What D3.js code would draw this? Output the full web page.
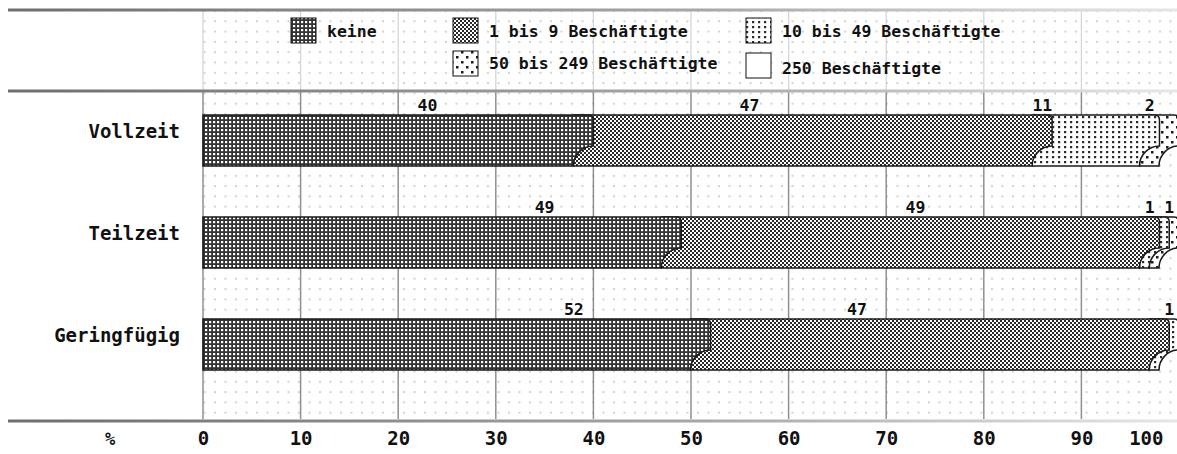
<!DOCTYPE html>
<meta charset="utf-8">
<style>

body {
  margin: 0;
  background: #fff;
}

text {
  font-family: "DejaVu Sans Mono", monospace;
  font-weight: bold;
  fill: #111;
}

.axis path,
.axis line {
  display: none;
}

</style>
<body>
<script src="https://cdnjs.cloudflare.com/ajax/libs/d3/7.8.5/d3.min.js"></script>
<script>

// data (percent of employees)
var categories = ["Vollzeit", "Teilzeit", "Geringfügig"];
var sizeNames = ["keine", "1 bis 9 Beschäftigte", "10 bis 49 Beschäftigte", "50 bis 249 Beschäftigte", "250 Beschäftigte"];
var keine   = [40, 49, 52];
var bis9    = [47, 49, 47];
var bis49   = [11, 1, 1];
var bis249  = [2, 1, 0];
var ab250   = [0, 0, 0];
var tickValues = [0, 10, 20, 30, 40, 50, 60, 70, 80, 90, 100];

// where the value labels sit in the original (in percent units)
var labelAt = [[23, 56, 86, 97], [35, 73, 97, 99], [38, 67, 99]];

var keys = ["keine", "bis9", "bis49", "bis249", "ab250"];
var table = categories.map(function(c, i) {
  return {cat: c, keine: keine[i], bis9: bis9[i], bis49: bis49[i], bis249: bis249[i], ab250: ab250[i]};
});

var width = 1177, height = 454;

var x = d3.scaleLinear()
    .domain([0, 100])
    .range([203, 1179]);

var y = d3.scaleBand()
    .domain(categories)
    .range([89.5, 395.5])
    .paddingInner(0.5)
    .paddingOuter(0.25);

var svg = d3.select("body").append("svg")
    .attr("width", width)
    .attr("height", height);

var defs = svg.append("defs");

// background dots
var bg = defs.append("pattern")
    .attr("id", "bgdots")
    .attr("patternUnits", "userSpaceOnUse")
    .attr("x", 214).attr("y", 10)
    .attr("width", 10.5).attr("height", 10.3);
bg.append("rect").attr("width", 2).attr("height", 2).attr("fill", "#d2d2d2");

function pattern(id, w, h, back, dots, dotColor, s) {
  var p = defs.append("pattern")
      .attr("id", id)
      .attr("patternUnits", "userSpaceOnUse")
      .attr("width", w).attr("height", h);
  p.append("rect").attr("width", w).attr("height", h).attr("fill", back);
  dots.forEach(function(d) {
    p.append("rect").attr("x", d[0]).attr("y", d[1])
        .attr("width", s).attr("height", s).attr("fill", dotColor);
  });
}

pattern("p0", 4, 4, "#333", [[1, 1]], "#fff", 2.2);
pattern("p1", 4, 4, "#fff", [[0, 0], [2, 2]], "#2a2a2a", 2);
pattern("p2", 6, 5, "#fff", [[2, 1]], "#2a2a2a", 2.2);
pattern("p3", 10, 10, "#fff", [[1, 1], [6, 6]], "#1a1a1a", 2.5);
pattern("p4", 4, 4, "#fff", [], "#000", 0);

var fills = ["url(#p0)", "url(#p1)", "url(#p2)", "url(#p3)", "url(#p4)"];

var grad = defs.append("linearGradient")
    .attr("id", "rule")
    .attr("x1", "0%").attr("x2", "100%");
grad.append("stop").attr("offset", "0%").attr("stop-color", "#6e6e6e");
grad.append("stop").attr("offset", "60%").attr("stop-color", "#a8a8a8");
grad.append("stop").attr("offset", "100%").attr("stop-color", "#e6e6e6");

// dotted plot area
svg.append("rect")
    .attr("x", x(0)).attr("y", 10)
    .attr("width", width - x(0)).attr("height", 410)
    .attr("fill", "url(#bgdots)");

// grid lines
var grid = tickValues.slice(0, -1);
svg.selectAll(".gridTop")
    .data(grid)
  .enter().append("line")
    .attr("x1", function(d) { return x(d); })
    .attr("x2", function(d) { return x(d); })
    .attr("y1", 10).attr("y2", 90)
    .attr("stroke", "#d6d6d6")
    .attr("stroke-width", 1.3);

svg.selectAll(".grid")
    .data(grid)
  .enter().append("line")
    .attr("x1", function(d) { return x(d); })
    .attr("x2", function(d) { return x(d); })
    .attr("y1", 91).attr("y2", 419)
    .attr("stroke", "#8f8f8f")
    .attr("stroke-width", 1.5);

// horizontal rules
[10, 91, 421].forEach(function(yy) {
  svg.append("rect")
      .attr("x", 8).attr("y", yy - 1.5)
      .attr("width", width - 8).attr("height", 3)
      .attr("fill", "url(#rule)");
});

// legend
var legendItems = [
  {i: 0, x: 291, y: 18, ty: 37},
  {i: 1, x: 453, y: 18, ty: 37},
  {i: 2, x: 746, y: 18, ty: 37},
  {i: 3, x: 453, y: 51, ty: 69},
  {i: 4, x: 746, y: 53, ty: 74}
];

var legend = svg.selectAll(".legend")
    .data(legendItems)
  .enter().append("g")
    .attr("class", "legend");

legend.append("rect")
    .attr("x", function(d) { return d.x; })
    .attr("y", function(d) { return d.y; })
    .attr("width", 25)
    .attr("height", 25)
    .attr("fill", function(d) { return fills[d.i]; })
    .attr("stroke", "#111")
    .attr("stroke-width", 1);

legend.append("text")
    .attr("x", function(d) { return d.x + 36; })
    .attr("y", function(d) { return d.ty; })
    .style("font-size", "16.5px")
    .text(function(d) { return sizeNames[d.i]; });

// stacked bars
var series = d3.stack().keys(keys)(table);
var bite = 20, corner = 5;

function segPath(a, b, y0, y1, first) {
  var left = first ? a : a - bite;
  return "M" + left + "," + y0 +
    "L" + (b - corner) + "," + y0 +
    "Q" + b + "," + y0 + "," + b + "," + (y0 + corner) +
    "L" + b + "," + (y1 - bite) +
    "A" + bite + "," + bite + " 0 0 0 " + (b - bite) + "," + y1 +
    "L" + left + "," + y1 + "Z";
}

table.forEach(function(row, r) {
  var segs = [];
  series.forEach(function(s, j) {
    var v = s[r];
    if (v[1] - v[0] > 0) segs.push({j: j, x0: v[0], x1: v[1]});
  });
  var y0 = y(row.cat), y1 = y0 + y.bandwidth();
  var g = svg.append("g").attr("class", "bar");
  g.selectAll("path")
      .data(segs.slice().reverse())
    .enter().append("path")
      .attr("d", function(d) { return segPath(x(d.x0), x(d.x1), y0, y1, d.x0 === 0); })
      .attr("fill", function(d) { return fills[d.j]; })
      .attr("stroke", "#1a1a1a")
      .attr("stroke-width", 1.5);

  svg.selectAll(".val" + r)
      .data(segs)
    .enter().append("text")
      .attr("x", function(d, k) { return x(labelAt[r][k]); })
      .attr("y", y0 - 4)
      .attr("text-anchor", "middle")
      .style("font-size", "16.5px")
      .text(function(d) { return d.x1 - d.x0; });
});

// category labels
svg.selectAll(".cat")
    .data(categories)
  .enter().append("text")
    .attr("x", 180)
    .attr("y", function(d) { return y(d) + 23; })
    .attr("text-anchor", "end")
    .style("font-size", "19px")
    .text(function(d) { return d; });

// x axis labels
var xAxis = d3.axisBottom(x)
    .tickValues(tickValues)
    .tickSize(0)
    .tickPadding(0)
    .tickFormat(d3.format("d"));

var ax = svg.append("g")
    .attr("class", "axis")
    .attr("transform", "translate(0,431)")
    .call(xAxis);

ax.selectAll("text")
    .attr("dy", "0.71em")
    .style("font-size", "19px")
    .style("font-family", "'DejaVu Sans Mono', monospace")
    .style("font-weight", "bold")
    .attr("fill", "#111")
    .filter(function(d) { return d === 100; })
    .attr("text-anchor", "end")
    .attr("x", -16);

svg.append("text")
    .attr("x", 110)
    .attr("y", 445)
    .attr("text-anchor", "middle")
    .style("font-size", "17px")
    .text("%");

</script>
